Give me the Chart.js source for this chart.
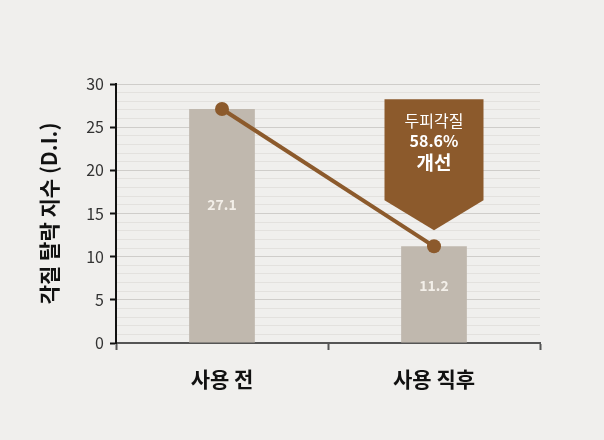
<!DOCTYPE html>
<html>
<head>
<meta charset="utf-8">
<script src="https://cdn.jsdelivr.net/npm/chart.js@4.4.1/dist/chart.umd.min.js"></script>
<style>
  html, body { margin: 0; padding: 0; background: #f0efed; }
  #wrap { width: 604px; height: 440px; }
</style>
</head>
<body>
<div id="wrap"><canvas id="diChart" width="604" height="440"></canvas></div>
<script>
// 각질 탈락 지수 chart
const categories = ['사용 전', '사용 직후'];
const diValues = [27.1, 11.2];
const yTicks = [0, 5, 10, 15, 20, 25, 30];
const badgeLines = ['두피각질', '58.6%', '개선'];

const FONT = "'Noto Sans CJK KR', 'Noto Sans', sans-serif";
const BROWN = '#8c5a2c';

// value labels inside the bars + the arrow badge over the second point
const overlayPlugin = {
    id: 'overlay',
    afterDatasetsDraw(chart) {
        const ctx = chart.ctx;
        const barMeta = chart.getDatasetMeta(1);
        ctx.save();
        ctx.font = 'bold 14px ' + FONT;
        ctx.fillStyle = '#f3efe9';
        ctx.textAlign = 'center';
        ctx.textBaseline = 'middle';
        barMeta.data.forEach(function(bar, i) {
            const y = bar.y + (bar.base - bar.y) * 0.41;
            ctx.fillText(diValues[i].toFixed(1), bar.x, y);
        });

        const pt = chart.getDatasetMeta(0).data[1];
        const w = 99, tipY = pt.y - 16, rectBottom = tipY - 30, top = rectBottom - 101;
        ctx.fillStyle = BROWN;
        ctx.beginPath();
        ctx.moveTo(pt.x - w / 2, top);
        ctx.lineTo(pt.x + w / 2, top);
        ctx.lineTo(pt.x + w / 2, rectBottom);
        ctx.lineTo(pt.x, tipY);
        ctx.lineTo(pt.x - w / 2, rectBottom);
        ctx.closePath();
        ctx.fill();

        ctx.fillStyle = '#ffffff';
        ctx.font = '16px ' + FONT;
        ctx.fillText(badgeLines[0], pt.x, top + 22);
        ctx.font = 'bold 16px ' + FONT;
        ctx.fillText(badgeLines[1], pt.x, top + 42);
        ctx.font = 'bold 19px ' + FONT;
        ctx.fillText(badgeLines[2], pt.x, top + 63);
        ctx.restore();
    }
};

document.addEventListener('DOMContentLoaded', function() {
    const ctx = document.getElementById('diChart').getContext('2d');
    new Chart(ctx, {
        data: {
            labels: categories,
            datasets: [{
                type: 'line',
                data: diValues,
                borderColor: BROWN,
                backgroundColor: BROWN,
                borderWidth: 4,
                pointRadius: 7,
                pointHoverRadius: 7,
                pointBackgroundColor: BROWN,
                pointBorderWidth: 0,
                order: 0
            }, {
                type: 'bar',
                data: diValues,
                backgroundColor: '#c0b8ae',
                barPercentage: 0.31,
                categoryPercentage: 1,
                order: 1
            }]
        },
        options: {
            responsive: false,
            animation: false,
            layout: { padding: { top: 84, right: 64, left: 0, bottom: 0 } },
            plugins: {
                legend: { display: false },
                tooltip: { enabled: false }
            },
            scales: {
                x: {
                    offset: true,
                    afterFit: function(scale) { scale.height = 97; },
                    grid: {
                        offset: true,
                        drawOnChartArea: false,
                        tickLength: 7,
                        tickWidth: 2,
                        tickColor: '#555555'
                    },
                    border: { color: '#555555', width: 2 },
                    ticks: {
                        padding: 16,
                        color: '#111111',
                        font: { family: FONT, size: 21, weight: 'bold' }
                    }
                },
                y: {
                    min: yTicks[0],
                    max: yTicks[yTicks.length - 1],
                    afterFit: function(scale) { scale.width = 116; },
                    ticks: {
                        stepSize: 1,
                        autoSkip: false,
                        padding: 6,
                        color: '#333333',
                        font: { family: FONT, size: 16 },
                        callback: function(v) { return yTicks.includes(v) ? v : ''; }
                    },
                    grid: {
                        tickLength: 6,
                        color: function(c) { return c.tick.value % 5 === 0 ? '#cfcdca' : '#e3e1de'; },
                        tickColor: function(c) { return c.tick.value % 5 === 0 ? '#111111' : 'rgba(0,0,0,0)'; },
                        tickWidth: 2
                    },
                    border: { color: '#111111', width: 2 },
                    title: {
                        display: true,
                        text: '각질 탈락 지수 (D.I.)',
                        color: '#111111',
                        padding: { top: 36, bottom: 0 },
                        font: { family: FONT, size: 21, weight: 'bold' }
                    }
                }
            }
        },
        plugins: [overlayPlugin]
    });
});
</script>
</body>
</html>
